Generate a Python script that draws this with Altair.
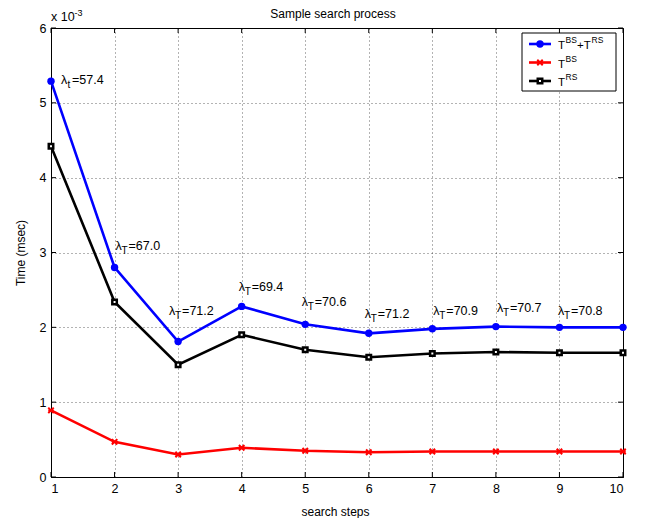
import altair as alt
import pandas as pd

# ---------------- data ----------------
steps = [1, 2, 3, 4, 5, 6, 7, 8, 9, 10]
t_total = [5.29, 2.80, 1.81, 2.28, 2.04, 1.92, 1.98, 2.01, 2.00, 2.00]   # T^BS + T^RS  (x 1e-3 msec)
t_bs = [0.89, 0.47, 0.30, 0.39, 0.35, 0.33, 0.34, 0.34, 0.34, 0.34]      # T^BS
t_rs = [4.42, 2.34, 1.50, 1.90, 1.70, 1.60, 1.65, 1.67, 1.66, 1.66]      # T^RS
series_names = ["TBS+TRS", "TBS", "TRS"]
series_colors = ["#0000ff", "#ff0000", "#000000"]
lambda_steps = [1, 2, 3, 4, 5, 6, 7, 8, 9]
lambda_subs = ["t", "T", "T", "T", "T", "T", "T", "T", "T"]
lambda_vals = ["57.4", "67.0", "71.2", "69.4", "70.6", "71.2", "70.9", "70.7", "70.8"]
x_ticks = [1, 2, 3, 4, 5, 6, 7, 8, 9, 10]
y_ticks = [0, 1, 2, 3, 4, 5, 6]
title_text = "Sample search process"
x_title = "search steps"
y_title = "Time (msec)"

# ---------------- style ----------------
FONT = "Liberation Sans"
W, H = 572, 449
# pixel offsets (dx, dy) of each lambda label from its point
label_offsets = [(10, 3), (1, -17), (-9, -27), (-3, -15), (-3.5, -18),
                 (-4, -15), (1, -14), (1, -15), (-1.5, -12.5)]

df = pd.DataFrame({
    "step": steps * 3,
    "value": t_total + t_bs + t_rs,
    "series": [n for n in series_names for _ in steps],
})
ann = pd.DataFrame({
    "step": lambda_steps,
    "value": t_total[:len(lambda_steps)],
    "sub": lambda_subs,
    "val": ["=" + v for v in lambda_vals],
})

xs = alt.Scale(domain=[1, 10], nice=False, zero=False)
ys = alt.Scale(domain=[0, 6], nice=False, zero=True)
x_enc = alt.X("step:Q", scale=xs, axis=alt.Axis(
    values=x_ticks, format="d", title=x_title, titleX=W / 2 - 2, titleY=38,
    titleBaseline="alphabetic", titleAlign="center", labelPadding=5))
y_enc = alt.Y("value:Q", scale=ys, axis=alt.Axis(
    values=y_ticks, format="d", title=y_title, titleAngle=-90, titleX=-27,
    titleY=H / 2, titleAlign="center", titleBaseline="alphabetic", labelPadding=5))

layers = []

# inward ticks (MATLAB style)
xt = pd.DataFrame({"step": x_ticks})
yt = pd.DataFrame({"value": y_ticks})
layers.append(alt.Chart(xt).mark_rule(color="black", strokeWidth=1).encode(
    x=x_enc, y=alt.value(H), y2=alt.value(H - 5)))
layers.append(alt.Chart(xt).mark_rule(color="black", strokeWidth=1).encode(
    x=x_enc, y=alt.value(0), y2=alt.value(5)))
layers.append(alt.Chart(yt).mark_rule(color="black", strokeWidth=1).encode(
    y=y_enc, x=alt.value(0), x2=alt.value(5)))
layers.append(alt.Chart(yt).mark_rule(color="black", strokeWidth=1).encode(
    y=y_enc, x=alt.value(W), x2=alt.value(W - 5)))

# lines
layers.append(alt.Chart(df).mark_line(strokeWidth=2.6).encode(
    x=x_enc, y=y_enc,
    color=alt.Color("series:N", scale=alt.Scale(domain=series_names, range=series_colors), legend=None)))

# markers
CROSS = "M-1,-1L1,1M-1,1L1,-1M-1,0L1,0"
layers.append(alt.Chart(df).transform_filter(alt.datum.series == series_names[0]).mark_point(
    shape="circle", filled=True, size=55, color=series_colors[0], opacity=1).encode(x=x_enc, y=y_enc))
layers.append(alt.Chart(df).transform_filter(alt.datum.series == series_names[1]).mark_point(
    shape=CROSS, filled=False, size=30, color=series_colors[1],
    strokeWidth=2, opacity=1).encode(x=x_enc, y=y_enc))
layers.append(alt.Chart(df).transform_filter(alt.datum.series == series_names[2]).mark_point(
    shape="square", filled=True, size=20, fill="white", stroke=series_colors[2],
    strokeWidth=2.5, opacity=1).encode(x=x_enc, y=y_enc))

# lambda annotations
for i, s in enumerate(lambda_steps):
    ox, oy = label_offsets[i]
    sub_dx = 6.5 if lambda_subs[i] == "t" else 6
    val_dx = 11 if lambda_subs[i] == "t" else 13
    base = alt.Chart(ann).transform_filter(alt.datum.step == s)
    layers.append(base.mark_text(text="λ", align="left", baseline="alphabetic", font=FONT,
                                 fontSize=12.5, color="black", dx=ox, dy=oy).encode(x=x_enc, y=y_enc))
    layers.append(base.mark_text(align="left", baseline="alphabetic", font=FONT, fontSize=10,
                                 color="black", dx=ox + sub_dx, dy=oy + 4).encode(
        x=x_enc, y=y_enc, text="sub:N"))
    layers.append(base.mark_text(align="left", baseline="alphabetic", font=FONT, fontSize=12.5,
                                 color="black", dx=ox + val_dx, dy=oy).encode(
        x=x_enc, y=y_enc, text="val:N"))

one = pd.DataFrame({"a": [0]})

def txt(t, x, y, size, align="left"):
    return alt.Chart(one).mark_text(text=t, align=align, baseline="alphabetic", font=FONT,
                                    fontSize=size, color="black").encode(x=alt.value(x), y=alt.value(y))

# chart title and "x 10^-3" exponent label
layers.append(txt(title_text, W / 2 - 4, -10.5, 12, align="center"))
layers.append(txt("x 10", 0, -7, 12.5))
layers.append(txt("-3", 23.5, -12.5, 9))

# legend box
LX0, LX1, LY0, LY1 = 471, 565, 5, 63
rows = [16, 34.5, 53]
layers.append(alt.Chart(one).mark_rect(fill="white", stroke="black", strokeWidth=1).encode(
    x=alt.value(LX0), x2=alt.value(LX1), y=alt.value(LY0), y2=alt.value(LY1)))
for r, col in zip(rows, series_colors):
    layers.append(alt.Chart(one).mark_rule(color=col, strokeWidth=2.6).encode(
        x=alt.value(478), x2=alt.value(500), y=alt.value(r)))
layers.append(alt.Chart(one).mark_point(shape="circle", filled=True, size=55, color=series_colors[0],
                                        opacity=1).encode(x=alt.value(489), y=alt.value(rows[0])))
layers.append(alt.Chart(one).mark_point(shape=CROSS, filled=False, size=30,
                                        color=series_colors[1], strokeWidth=2, opacity=1).encode(
    x=alt.value(489), y=alt.value(rows[1])))
layers.append(alt.Chart(one).mark_point(shape="square", filled=True, size=20, fill="white",
                                        stroke="black", strokeWidth=2.5, opacity=1).encode(
    x=alt.value(489), y=alt.value(rows[2])))

layers += [
    txt("T", 507, rows[0] + 5, 11.5), txt("BS", 514.5, rows[0] - 1, 8.5),
    txt("+T", 526, rows[0] + 5, 11.5), txt("RS", 540.5, rows[0] - 1, 8.5),
    txt("T", 507, rows[1] + 5, 11.5), txt("BS", 514.5, rows[1] - 1, 8.5),
    txt("T", 507, rows[2] + 5, 11.5), txt("RS", 514.5, rows[2] - 1, 8.5),
]

chart = alt.layer(*layers).properties(
    width=W, height=H,
    padding={"left": 43, "top": 20, "right": 19, "bottom": 41},
    autosize=alt.AutoSizeParams(type="none"),
).configure_view(stroke="black", strokeWidth=1).configure_axis(
    labelFont=FONT, labelFontSize=12.5, labelColor="black",
    titleFont=FONT, titleFontSize=12, titleFontWeight="normal", titleColor="black",
    domainColor="black", domainWidth=1, ticks=False,
    grid=True, gridColor="#000000", gridOpacity=0.6, gridDash=[1, 3], gridWidth=1,
)

chart.save("out.html", embed_options={"renderer": "svg", "actions": False})
